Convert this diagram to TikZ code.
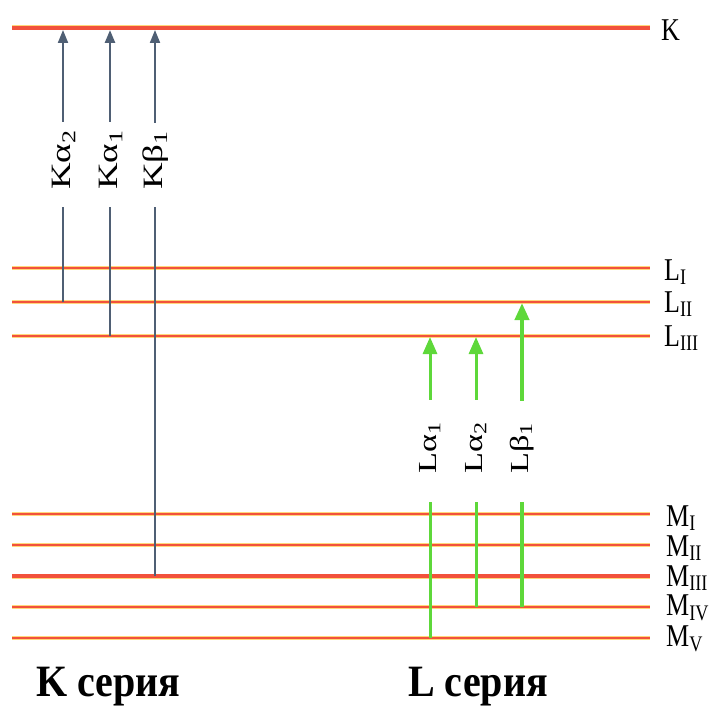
\documentclass[tikz,border=0pt]{standalone}
\usepackage{fontspec}
\usepackage{graphicx}
\setmainfont{Liberation Serif}
\usetikzlibrary{arrows.meta}
\definecolor{lvl}{HTML}{F2523C}
\definecolor{glow}{HTML}{FFD77A}
\definecolor{ktr}{HTML}{4F5F74}
\definecolor{ltr}{HTML}{5ED83A}
% stretched lettering: along the reading direction, or upright
\newcommand\widen[1]{\scalebox{1.32}[1]{#1}}
\newcommand\tallen[2]{\scalebox{1}[#1]{#2}}
\begin{document}
\begin{tikzpicture}[x=1pt,y=-1pt,
  level/.style={draw=lvl,line width=2.4pt,preaction={draw=glow,line width=3.6pt}},
  thicklevel/.style={draw=lvl,line width=3.6pt,preaction={draw=glow,line width=5pt}},
  kline/.style={draw=ktr,line width=2pt},
  karrow/.style={kline,-{Triangle[length=13pt,width=10pt]}},
  lline/.style={draw=ltr,line width=3pt},
  larrow/.style={lline,-{Triangle[length=17pt,width=14pt]}},
  trlabel/.style={rotate=90,anchor=west,inner sep=0pt,font=\fontsize{28}{28}\selectfont},
  lvllabel/.style={anchor=west,inner sep=0pt,font=\fontsize{26}{26}\selectfont},
  series/.style={anchor=west,inner sep=0pt,font=\fontsize{40}{40}\selectfont\bfseries}]
\useasboundingbox (0,0) rectangle (720,706);

% energy levels: left end, right end
\foreach \n/\y/\s in {K/28/thicklevel, LI/268/level, LII/302/level, LIII/336/level,
    MI/514/level, MII/545/level, MIII/576/thicklevel, MIV/607/level, MV/638/level}{
  \coordinate (\n-l) at (12,\y);
  \coordinate (\n-r) at (650,\y);
  \draw[\s] (\n-l) -- (\n-r);
}
% level names
\node[lvllabel] (lK)    at (661,30)  {\tallen{1.22}{K}};
\node[lvllabel] (lLI)   at (664,272) {\tallen{1.22}{L\textsubscript{I}}};
\node[lvllabel] (lLII)  at (664,304) {\tallen{1.22}{L\textsubscript{II}}};
\node[lvllabel] (lLIII) at (664,338) {\tallen{1.22}{L\textsubscript{III}}};
\node[lvllabel] (lMI)   at (666,518) {\tallen{1.22}{M\textsubscript{I}}};
\node[lvllabel] (lMII)  at (666,548) {\tallen{1.22}{M\textsubscript{II}}};
\node[lvllabel] (lMIII) at (666,578) {\tallen{1.22}{M\textsubscript{III}}};
\node[lvllabel] (lMIV)  at (666,608) {\tallen{1.22}{M\textsubscript{IV}}};
\node[lvllabel] (lMV)   at (666,639) {\tallen{1.22}{M\textsubscript{V}}};

% K series: lower and upper ends of each transition
\coordinate (ka2-lo) at (63,302);  \coordinate (ka2-hi) at (63,30);
\coordinate (ka1-lo) at (110,336); \coordinate (ka1-hi) at (110,30);
\coordinate (kb1-lo) at (155,576); \coordinate (kb1-hi) at (155,30);
\node[trlabel] (ka2) at (64,190)  {\widen{Kα\textsubscript{2}}};
\node[trlabel] (ka1) at (111,190) {\widen{Kα\textsubscript{1}}};
\node[trlabel] (kb1) at (156,190) {\widen{Kβ\textsubscript{1}}};
\foreach \t in {ka2,kb1}{
  \draw[kline,shorten >=17pt] (\t-lo) -- (\t-lo |- \t.west);
  \draw[karrow,shorten <=8pt] (\t-hi |- \t.east) -- (\t-hi);
}
\draw[kline,line width=2.6pt,shorten >=17pt] (ka1-lo) -- (ka1-lo |- ka1.west);
\draw[karrow,line width=2.6pt,shorten <=8pt] (ka1-hi |- ka1.east) -- (ka1-hi);

% L series
\coordinate (la1-lo) at (430,638); \coordinate (la1-hi) at (430,337);
\coordinate (la2-lo) at (476,607); \coordinate (la2-hi) at (476,337);
\coordinate (lb1-lo) at (522,607); \coordinate (lb1-hi) at (522,303);
\node[trlabel,font=\fontsize{26}{26}\selectfont] (la1) at (430,474) {\widen{Lα\textsubscript{1}}};
\node[trlabel,font=\fontsize{26}{26}\selectfont] (la2) at (476,474) {\widen{Lα\textsubscript{2}}};
\node[trlabel,font=\fontsize{26}{26}\selectfont] (lb1) at (522,474) {\widen{Lβ\textsubscript{1}}};
\foreach \t in {la1,la2}{
  \draw[lline,shorten >=28pt] (\t-lo) -- (\t.west);
  \draw[larrow,shorten <=22pt] (\t.east) -- (\t-hi);
}
\draw[lline,line width=4pt,shorten >=28pt] (lb1-lo) -- (lb1.west);
\draw[larrow,line width=4pt,shorten <=22pt] (lb1.east) -- (lb1-hi);

% series captions
\node[series] (kser) at (36,687) {\tallen{1.12}{K серия}};
\node[series] (lser) at (408,687) {\tallen{1.12}{L серия}};
\end{tikzpicture}
\end{document}
